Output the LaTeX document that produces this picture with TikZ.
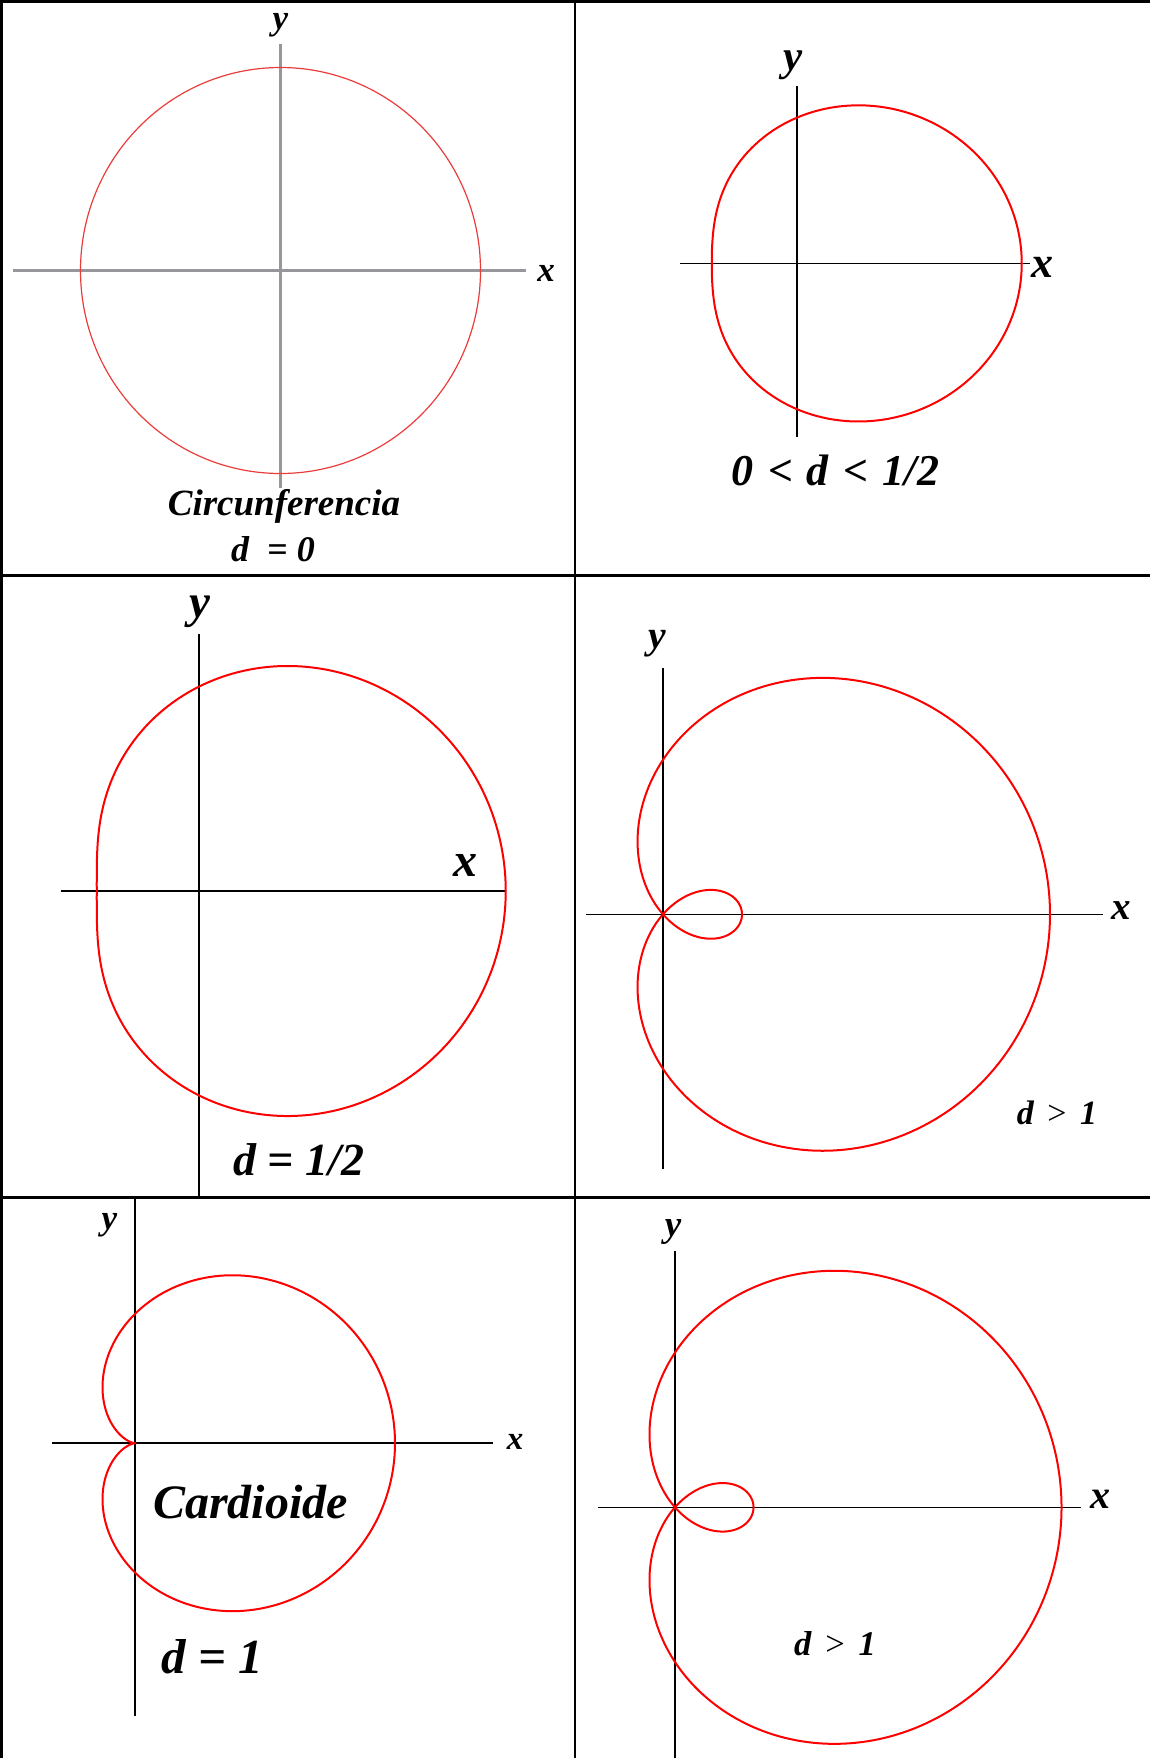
\documentclass[tikz,border=0pt]{standalone}
\usepackage{fontspec}
\setmainfont{Liberation Serif}
\begin{document}
\begin{tikzpicture}[x=0.5pt,y=-0.5pt,
  frame/.style={line width=1.3pt,black},
  axis/.style={line width=0.8pt,black},
  grayaxis/.style={line width=1.2pt,color={rgb,255:red,150;green,150;blue,155}},
  curve/.style={line width=1pt,red},
  thincurve/.style={line width=0.6pt,color={rgb,255:red,235;green,60;blue,60}},
  lbl/.style={inner sep=0pt,outer sep=0pt,font=\bfseries\itshape}]
\useasboundingbox[fill=white] (0,0) rectangle (1150,1758);
% frame
\draw[frame] (0,1.3) -- (1150,1.3);
\draw[frame] (1.8,0) -- (1.8,1758);
\draw[frame] (575,0) -- (575,1758);
\draw[frame] (0,575.5) -- (1150,575.5);
\draw[frame] (0,1197.5) -- (1150,1197.5);

% Panel 1 : circle
\draw[grayaxis] (13,270.4) -- (526,270.4);
\draw[grayaxis] (280.5,44.4) -- (280.5,487.6);
\draw[thincurve] (280.5,270.5) ellipse[x radius=200,y radius=203];
\node[lbl,font=\fontsize{17.5pt}{20pt}\selectfont\bfseries\itshape] (y1) at (280.5,25) {y};
\node[lbl,font=\fontsize{17.5pt}{20pt}\selectfont\bfseries\itshape] (x1) at (546,273) {x};
\node[lbl,font=\fontsize{18.5pt}{20pt}\selectfont\bfseries\itshape] (t1) at (284,506) {Circunferencia};
\node[lbl,font=\fontsize{18pt}{20pt}\selectfont\bfseries\itshape] (t1b) at (273,549) {d\ \ = 0};

% Panel 2 : 0<d<1/2
\draw[axis] (679.5,263.4) -- (1030,263.4);
\draw[axis] (797,85.8) -- (797,437.3);
\draw[curve] plot[domain=0:360,samples=240,smooth cycle]
  ({797+155*(cos(\x)+0.45*cos(\x)*cos(\x))},{263.4-145.8*(sin(\x)+0.45*sin(\x)*cos(\x))});
\node[lbl,font=\fontsize{21.5pt}{24pt}\selectfont\bfseries\itshape] (y2) at (793,64.8) {y};
\node[lbl,font=\fontsize{22pt}{24pt}\selectfont\bfseries\itshape] (x2) at (1042,267.7) {x};
\node[lbl,font=\fontsize{22pt}{24pt}\selectfont\bfseries\itshape] (t2) at (835.5,470.6) {0\hspace{0.33em}<\hspace{0.3em}d\hspace{0.33em}<\hspace{0.33em}1/2};

% Panel 3 : d=1/2
\draw[axis] (60.5,891) -- (506,891);
\draw[axis] (199,634.3) -- (199,1197);
\draw[curve] plot[domain=0:360,samples=240,smooth cycle]
  ({199+204.5*(cos(\x)+0.5*cos(\x)*cos(\x))},{891-204.4*(sin(\x)+0.5*sin(\x)*cos(\x))});
\node[lbl,font=\fontsize{23.5pt}{26pt}\selectfont\bfseries\itshape] (y3) at (200,612) {y};
\node[lbl,font=\fontsize{24pt}{26pt}\selectfont\bfseries\itshape] (x3) at (465,865) {x};
\node[lbl,font=\fontsize{23pt}{26pt}\selectfont\bfseries\itshape] (t3) at (298.5,1159.8) {d = 1/2};

% Panel 4 : d>1
\draw[axis] (586,914.3) -- (1103,914.3);
\draw[axis] (663,668.4) -- (663,1169.4);
\draw[curve] plot[domain=0:360,samples=360,smooth cycle]
  ({663+154*(cos(\x)+1.513*cos(\x)*cos(\x))},{914.3-154.5*(sin(\x)+1.513*sin(\x)*cos(\x))});
\node[lbl,font=\fontsize{19.8pt}{22pt}\selectfont\bfseries\itshape] (y4) at (657.5,644) {y};
\node[lbl,font=\fontsize{19.5pt}{22pt}\selectfont\bfseries\itshape] (x4) at (1121,910.5) {x};
\node[lbl,font=\fontsize{17pt}{20pt}\selectfont\bfseries\itshape] (t4) at (1057,1112.8) {d\hspace{0.4em}{\mdseries\upshape >}\hspace{0.4em}1};

% Panel 5 : cardioid
\draw[axis] (52,1443.2) -- (493,1443.2);
\draw[axis] (135,1197) -- (135,1715.9);
\draw[curve] plot[domain=0:360,samples=360,smooth cycle]
  ({135+130*(cos(\x)+cos(\x)*cos(\x))},{1443.2-129.3*(sin(\x)+sin(\x)*cos(\x))});
\node[lbl,font=\fontsize{17.5pt}{20pt}\selectfont\bfseries\itshape] (y5) at (109.5,1225.7) {y};
\node[lbl,font=\fontsize{16.5pt}{20pt}\selectfont\bfseries\itshape] (x5) at (515,1442) {x};
\node[lbl,font=\fontsize{24pt}{28pt}\selectfont\bfseries\itshape] (t5) at (250.5,1502.5) {Cardioide};
\node[lbl,font=\fontsize{24.5pt}{28pt}\selectfont\bfseries\itshape] (t5b) at (212,1657) {d = 1};

% Panel 6 : d>1
\draw[axis] (598,1507.3) -- (1081,1507.3);
\draw[axis] (675,1250.5) -- (675,1758);
\draw[curve] plot[domain=0:360,samples=360,smooth cycle]
  ({675+154*(cos(\x)+1.51*cos(\x)*cos(\x))},{1507.3-154.7*(sin(\x)+1.51*sin(\x)*cos(\x))});
\node[lbl,font=\fontsize{18.5pt}{22pt}\selectfont\bfseries\itshape] (y6) at (673,1231.7) {y};
\node[lbl,font=\fontsize{20pt}{22pt}\selectfont\bfseries\itshape] (x6) at (1100.5,1499.7) {x};
\node[lbl,font=\fontsize{17.3pt}{20pt}\selectfont\bfseries\itshape] (t6) at (835,1643.6) {d\hspace{0.4em}{\mdseries\upshape >}\hspace{0.4em}1};
\end{tikzpicture}
\end{document}
